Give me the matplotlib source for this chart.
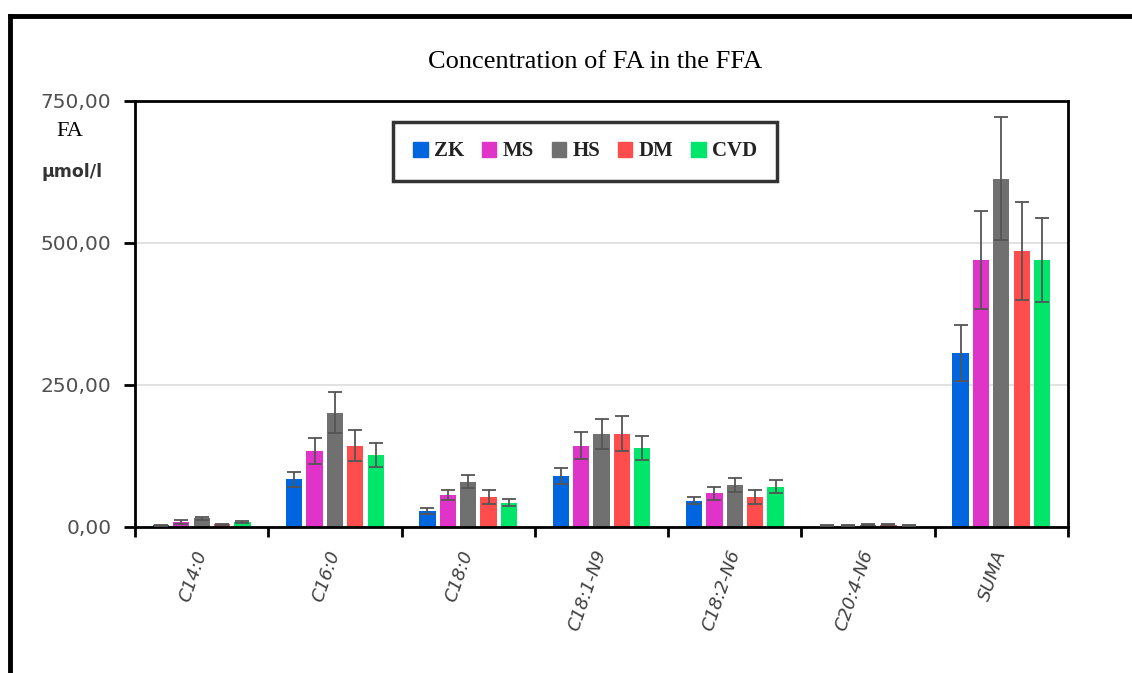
import matplotlib
matplotlib.use("Agg")
import matplotlib.pyplot as plt
import numpy as np
from matplotlib.lines import Line2D
from matplotlib.patches import Patch


categories = ["C14:0", "C16:0", "C18:0", "C18:1-N9", "C18:2-N6", "C20:4-N6", "SUMA"]
groups = ["ZK", "MS", "HS", "DM", "CVD"]
colors = ["#0066e0", "#e033c8", "#707070", "#ff4d4d", "#00e66b"]

zk = [3, 84, 28, 90, 46, 2, 306]
ms = [9, 134, 56, 143, 59, 2, 470]
hs = [15, 201, 80, 164, 74, 4, 613]
dm = [5, 143, 53, 164, 53, 4, 486]
cvd = [9, 127, 43, 139, 71, 2, 470]

zk_err = [1, 13, 5, 14, 6, 1, 49]
ms_err = [4, 23, 9, 24, 11, 1, 86]
hs_err = [3, 36, 12, 27, 12, 1, 108]
dm_err = [1, 27, 12, 31, 12, 1, 86]
cvd_err = [2, 21, 6, 21, 12, 1, 74]

values = [zk, ms, hs, dm, cvd]
errors = [zk_err, ms_err, hs_err, dm_err, cvd_err]

yticks = [0, 250, 500, 750]
ytick_labels = ["0,00", "250,00", "500,00", "750,00"]


def main():
    fig = plt.figure(figsize=(11.32, 6.73), dpi=100)
    ax = fig.add_axes([135 / 1132, 1 - 527 / 673, 933 / 1132, 426 / 673])

    # outer frame lines (top and left only)
    fig.add_artist(Line2D([10 / 1132, 1.0], [1 - 16 / 673, 1 - 16 / 673],
                          transform=fig.transFigure, color="black", lw=3.5))
    fig.add_artist(Line2D([10 / 1132, 10 / 1132], [0.0, 1 - 16 / 673],
                          transform=fig.transFigure, color="black", lw=3.5))

    x = np.arange(len(categories)) + 0.5
    step = 0.153
    width = 0.122
    for i, (vals, errs, col) in enumerate(zip(values, errors, colors)):
        pos = x + (i - 2) * step
        ax.bar(pos, vals, width=width, color=col, zorder=2)
        ax.errorbar(pos, vals, yerr=errs, fmt="none", ecolor="#555555",
                    elinewidth=1.3, capsize=5, capthick=1.3, zorder=3)

    ax.set_xlim(0, len(categories))
    ax.set_ylim(0, 750)

    ax.set_yticks(yticks)
    ax.set_yticklabels(ytick_labels, fontsize=14.5, color="#505050")
    ax.tick_params(axis="y", direction="out", length=8, width=2, pad=9)
    ax.yaxis.grid(True, color="#dddddd", lw=1.2, zorder=0)
    ax.set_axisbelow(True)

    ax.set_xticks(np.arange(len(categories) + 1))
    ax.set_xticklabels([])
    ax.tick_params(axis="x", which="major", direction="out", length=7, width=2)
    ax.set_xticks(x, minor=True)
    ax.set_xticklabels(categories, minor=True, rotation=71, rotation_mode="anchor",
                       ha="right", va="center", fontsize=13, style="italic",
                       color="#404040")
    ax.tick_params(axis="x", which="minor", length=0, pad=17)

    for side in ["left", "bottom", "top", "right"]:
        ax.spines[side].set_linewidth(2)
        ax.spines[side].set_color("black")

    fig.text(595 / 1132, 1 - 62 / 673, "Concentration of FA in the FFA",
             family="Liberation Serif", fontsize=19, ha="center", va="center")
    fig.text(70 / 1132, 1 - 131 / 673, "FA", family="Liberation Serif",
             fontsize=16, ha="center", va="center")
    fig.text(72 / 1132, 1 - 172 / 673, "µmol/l", fontsize=12.5, fontweight="bold",
             color="#333333", ha="center", va="center")

    handles = [Patch(facecolor=c, edgecolor=c) for c in colors]
    leg = fig.legend(handles, groups, ncol=5, loc="center",
                     bbox_to_anchor=(585 / 1132, 1 - 151.5 / 673),
                     frameon=True, fancybox=False,
                     handlelength=0.7, handleheight=0.7, handletextpad=0.3,
                     columnspacing=0.85, borderpad=0.95,
                     prop={"weight": "bold", "size": 15,
                           "family": "Liberation Serif"})
    leg.get_frame().set_edgecolor("black")
    leg.get_frame().set_linewidth(2.5)
    for t in leg.get_texts():
        t.set_color("#222222")

    fig.savefig("out.png", dpi=100, facecolor="white")


if __name__ == "__main__":
    main()
